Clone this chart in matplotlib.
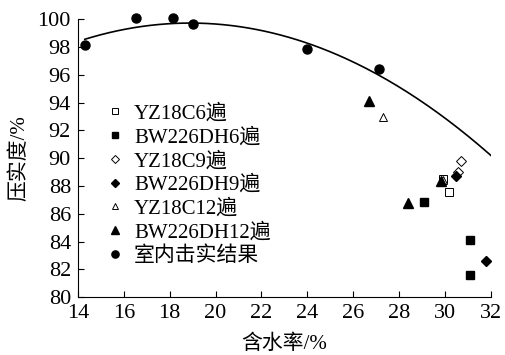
import numpy as np
import matplotlib
matplotlib.use("Agg")
from matplotlib import pyplot as plt

plt.rcParams['font.family'] = ['Liberation Serif', 'Noto Sans CJK SC', 'DejaVu Sans']

# 室内击实结果
lab_w = [14.3, 16.55, 18.15, 19.03, 24.0, 27.12]
lab_d = [98.13, 100.08, 100.08, 99.66, 97.84, 96.45]

yz6_w = [29.93, 30.19]
yz6_d = [88.47, 87.6]
bw6_w = [29.1, 31.09, 31.09]
bw6_d = [86.86, 84.1, 81.6]
yz9_w = [30.72, 30.55]
yz9_d = [89.78, 89.0]
bw9_w = [30.5, 31.81]
bw9_d = [88.7, 82.6]
yz12_w = [27.28, 29.9]
yz12_d = [92.97, 88.45]
bw12_w = [26.67, 29.82, 28.4]
bw12_d = [94.1, 88.35, 86.74]

# trend line: d = k + a*(w-h)^2
fit_h, fit_k, fit_a = 18.89, 99.72, -0.0554
fit_range = [14.3, 32.0]

fig = plt.figure(figsize=(5.06, 3.55), dpi=100)
ax = fig.add_axes([0.154, 0.163, 0.816, 0.783])

ww = np.linspace(fit_range[0], fit_range[1], 200)
ax.plot(ww, fit_k + fit_a * (ww - fit_h) ** 2, color="black", lw=1.2, zorder=1)

ax.plot(yz6_w, yz6_d, ls="none", marker="s", ms=5.5, mfc="white", mec="black", mew=0.7, label="YZ18C6遍")
ax.plot(bw6_w, bw6_d, ls="none", marker="s", ms=5.5, color="black", label="BW226DH6遍")
ax.plot(yz9_w, yz9_d, ls="none", marker="D", ms=5, mfc="white", mec="black", mew=0.7, label="YZ18C9遍")
ax.plot(bw9_w, bw9_d, ls="none", marker="D", ms=5, color="black", label="BW226DH9遍")
ax.plot(yz12_w, yz12_d, ls="none", marker="^", ms=6, mfc="white", mec="black", mew=0.7, label="YZ18C12遍")
ax.plot(bw12_w, bw12_d, ls="none", marker="^", ms=6.5, color="black", label="BW226DH12遍")
ax.plot(lab_w, lab_d, ls="none", marker="o", ms=6.5, color="black", label="室内击实结果",
        clip_on=False)

ax.set_xlim(14, 32)
ax.set_ylim(80, 100)
ax.set_xticks(np.arange(14, 33, 2))
ax.set_yticks(np.arange(80, 101, 2))
ax.spines["top"].set_visible(False)
ax.spines["right"].set_visible(False)
ax.tick_params(direction="in", labelsize=16, length=4, width=0.8, pad=5)
ax.set_xlabel("含水率/%", fontsize=15, labelpad=8)
ax.set_ylabel("压实度/%", fontsize=15, labelpad=6)

ax.legend(loc="upper left", bbox_to_anchor=(0.055, 0.725), frameon=False, fontsize=15,
          markerscale=0.8, handlelength=0.6, handletextpad=0.6, labelspacing=0.2,
          borderaxespad=0)

fig.savefig("out.png", dpi=100)
